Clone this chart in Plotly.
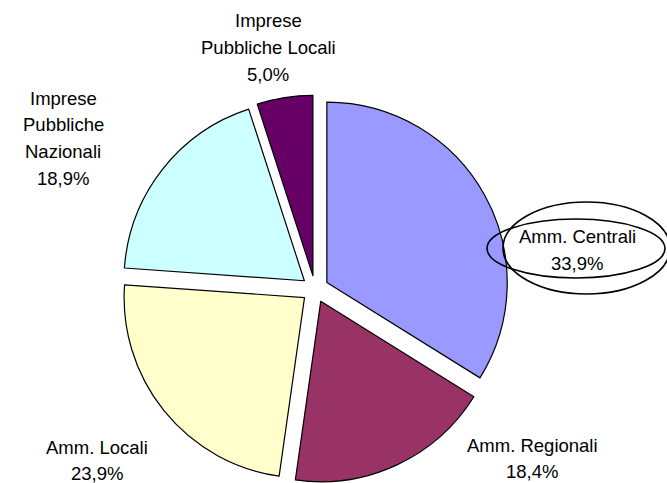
import plotly.graph_objects as go

# Data
categories = ["Amm. Centrali", "Amm. Regionali", "Amm. Locali",
              "Imprese Pubbliche Nazionali", "Imprese Pubbliche Locali"]
label_lines = [["Amm. Centrali"], ["Amm. Regionali"], ["Amm. Locali"],
               ["Imprese", "Pubbliche", "Nazionali"], ["Imprese", "Pubbliche Locali"]]
values = [33.9, 18.4, 23.9, 18.9, 5.0]
colors = ["#9999FF", "#993366", "#FFFFCC", "#CCFFFF", "#660066"]

W, H = 667, 483

fig = go.Figure()
fig.add_trace(go.Pie(
    labels=categories,
    values=values,
    sort=False,
    direction="clockwise",
    rotation=0,
    pull=[0.075] * len(values),
    marker=dict(colors=colors, line=dict(color="black", width=1.2)),
    textinfo="none",
    hoverinfo="skip",
    showlegend=False,
    domain=dict(x=[0.1723, 0.7723], y=[0.0, 0.803]),
))

# label anchor positions (pixel centre x, first line y)
label_pos = [(577, 237), (532, 445), (97, 447), (63, 98), (268, 21)]
line_gap = 26.7

def fmt(v):
    return f"{v:.1f}".replace(".", ",") + "%"

annotations = []
for lines, v, (px, py) in zip(label_lines, values, label_pos):
    all_lines = lines + [fmt(v)]
    for i, t in enumerate(all_lines):
        y = py + i * line_gap
        annotations.append(dict(
            x=px / W, y=1 - y / H, xref="paper", yref="paper",
            text=t, showarrow=False, xanchor="center", yanchor="middle",
            font=dict(family="Liberation Sans, Arial, sans-serif", size=18.5, color="black"),
        ))

shapes = [
    dict(type="circle", xref="paper", yref="paper",
         x0=487 / W, x1=665 / W, y0=1 - 278 / H, y1=1 - 219 / H,
         line=dict(color="black", width=1.6)),
    dict(type="circle", xref="paper", yref="paper",
         x0=503 / W, x1=670 / W, y0=1 - 294 / H, y1=1 - 202 / H,
         line=dict(color="black", width=1.6)),
]

fig.update_layout(
    width=W, height=H,
    margin=dict(l=0, r=0, t=0, b=0),
    paper_bgcolor="white", plot_bgcolor="white",
    annotations=annotations, shapes=shapes,
)

fig.write_html(
    "out.html",
    config={"displayModeBar": False},
    post_script="document.body.style.margin='0';document.body.style.overflow='hidden';",
)
